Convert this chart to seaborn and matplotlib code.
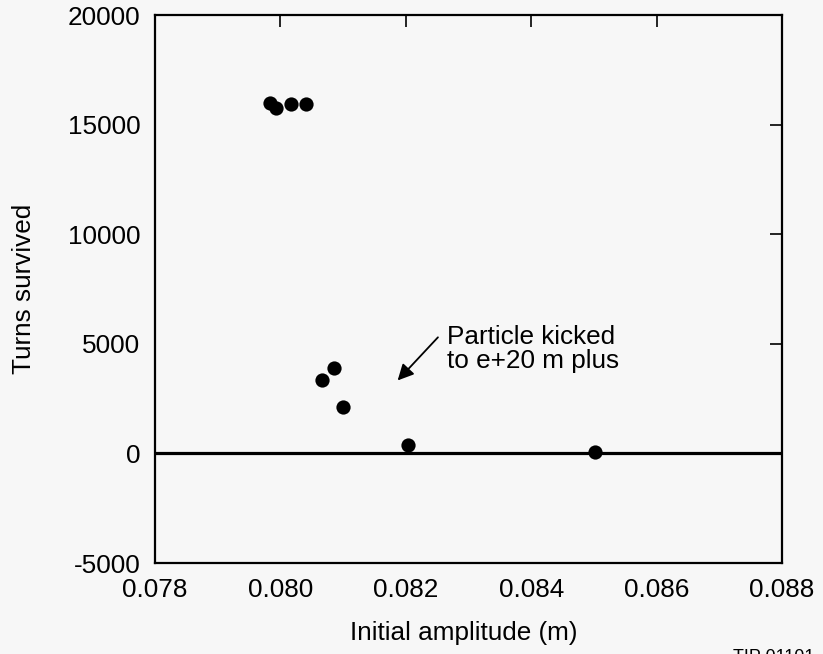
import matplotlib
matplotlib.use("Agg")
import matplotlib.pyplot as plt
import seaborn as sns
import pandas as pd

# Initial amplitude (m) and number of turns each particle survived
amplitude = [0.07983, 0.07993, 0.08017, 0.08041, 0.08066, 0.08085, 0.08100, 0.08203, 0.08501]
turns = [15970, 15740, 15920, 15920, 3330, 3880, 2140, 400, 80]

x_ticks = [0.078, 0.080, 0.082, 0.084, 0.086, 0.088]
x_tick_labels = ["0.078", "0.080", "0.082", "0.084", "0.086", "0.088"]
y_ticks = [-5000, 0, 5000, 10000, 15000, 20000]
y_tick_labels = ["-5000", "0", "5000", "10000", "15000", "20000"]

df = pd.DataFrame({"amplitude": amplitude, "turns": turns})

sns.set_theme(style="white")
plt.rcParams["font.family"] = ["Liberation Sans", "DejaVu Sans"]

FS = 18.8
bg = "#f7f7f7"
fig = plt.figure(figsize=(8.23, 6.54), dpi=100, facecolor=bg)
ax = fig.add_axes([0.1883, 0.1391, 0.7619, 0.8379])
ax.set_facecolor(bg)

# zero line
ax.axhline(0, color="black", lw=2.3, zorder=1)

sns.scatterplot(data=df, x="amplitude", y="turns", ax=ax, color="black",
                s=105, edgecolor="black", linewidth=0, zorder=3, legend=False)

ax.set_xlim(0.078, 0.088)
ax.set_ylim(-5000, 20000)
ax.set_xticks(x_ticks)
ax.set_xticklabels(x_tick_labels)
ax.set_yticks(y_ticks)
ax.set_yticklabels(y_tick_labels)

for s in ax.spines.values():
    s.set_visible(True)
    s.set_color("black")
    s.set_linewidth(1.6)

ax.tick_params(axis="both", direction="in", length=8.5, width=1.2,
               colors="black", labelsize=FS, top=True, right=True)
ax.tick_params(axis="y", pad=10.5)
ax.tick_params(axis="x", pad=11)

ax.set_xlabel("Initial amplitude (m)", fontsize=FS, color="black")
ax.set_ylabel("Turns survived", fontsize=FS, color="black")
ax.xaxis.set_label_coords(0.492, -0.128)
ax.xaxis.label.set_va("center")
ax.yaxis.set_label_coords(-0.209, 0.5)
ax.yaxis.label.set_va("center")

ax.annotate("Particle kicked\nto e+20 m plus",
            xy=(0.08187, 3330), xytext=(0.08265, 4750),
            fontsize=FS, ha="left", va="center", linespacing=1.0,
            color="black",
            arrowprops=dict(arrowstyle="-|>", color="black", lw=1.3,
                            mutation_scale=24,
                            shrinkA=0, shrinkB=0, relpos=(-0.05, 0.75)))

fig.text(733 / 823, 5 / 654, "TIP 01101", fontsize=13, ha="left", va="top",
         color="black")

fig.savefig("out.png", dpi=100, facecolor=bg)
